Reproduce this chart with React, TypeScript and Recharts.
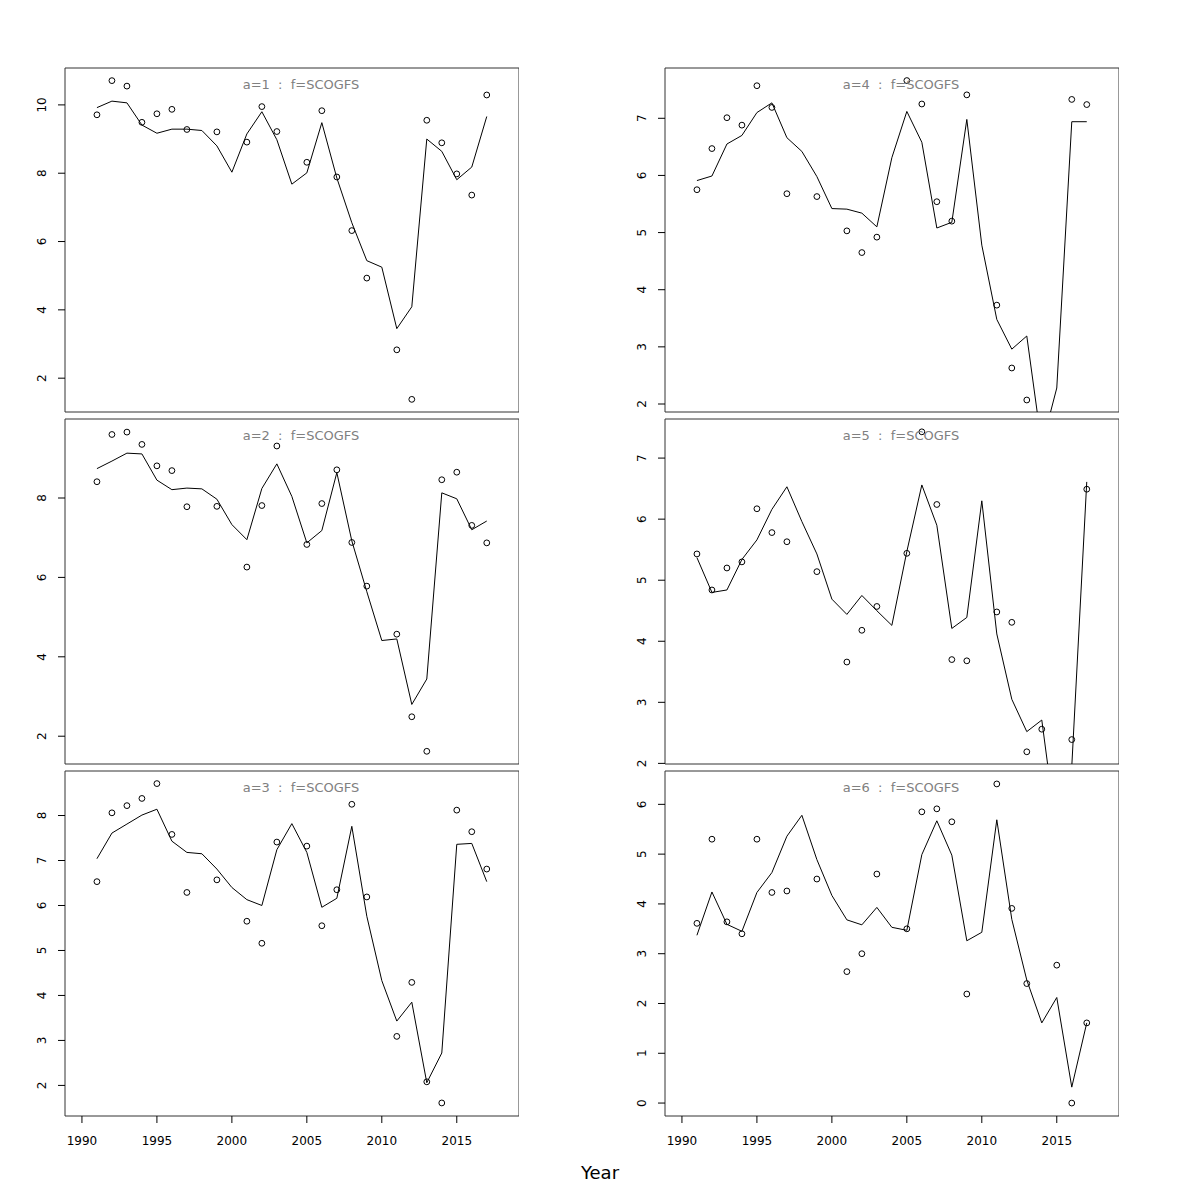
import React from 'react';
import { ComposedChart, Line, Scatter, XAxis, YAxis, ReferenceArea } from 'recharts';

const YEARS = [1991,1992,1993,1994,1995,1996,1997,1998,1999,2000,2001,2002,2003,2004,2005,2006,2007,2008,2009,2010,2011,2012,2013,2014,2015,2016,2017];
const X_TICKS = [1990, 1995, 2000, 2005, 2010, 2015];

const A1_OBS = [9.71,10.71,10.55,9.49,9.74,9.87,9.28,null,9.21,null,8.91,9.95,9.22,null,8.32,9.83,7.89,6.32,4.93,null,2.83,1.38,9.55,8.89,7.98,7.36,10.29];
const A1_FIT = [9.92,10.11,10.06,9.41,9.17,9.29,9.29,9.25,8.80,8.03,9.15,9.80,8.98,7.68,8.01,9.48,7.86,6.55,5.44,5.25,3.45,4.09,9.00,8.64,7.81,8.18,9.66];

const A2_OBS = [8.41,9.60,9.66,9.35,8.81,8.69,7.78,null,7.79,null,6.26,7.81,9.31,null,6.83,7.86,8.71,6.88,5.78,null,4.57,2.49,1.62,8.46,8.65,7.31,6.87];
const A2_FIT = [8.74,8.93,9.13,9.11,8.45,8.21,8.25,8.23,7.97,7.33,6.95,8.24,8.86,8.04,6.87,7.18,8.64,6.92,5.64,4.41,4.45,2.80,3.44,8.13,7.98,7.20,7.42];

const A3_OBS = [6.53,8.06,8.22,8.38,8.71,7.58,6.29,null,6.57,null,5.65,5.16,7.41,null,7.32,5.55,6.35,8.25,6.19,null,3.09,4.29,2.08,1.61,8.12,7.64,6.81];
const A3_FIT = [7.04,7.61,7.81,8.01,8.14,7.43,7.18,7.15,6.81,6.40,6.13,6.00,7.24,7.82,7.18,5.96,6.16,7.76,5.76,4.33,3.43,3.85,2.06,2.72,7.36,7.38,6.53];

const A4_OBS = [5.75,6.47,7.01,6.88,7.57,7.19,5.68,null,5.63,null,5.03,4.65,4.92,null,7.66,7.25,5.54,5.20,7.41,null,3.73,2.63,2.07,null,null,7.33,7.24];
const A4_FIT = [5.91,5.99,6.55,6.70,7.10,7.27,6.66,6.42,5.98,5.42,5.41,5.34,5.10,6.31,7.12,6.58,5.08,5.18,6.98,4.78,3.48,2.96,3.19,1.27,2.28,6.94,6.94];

const A5_OBS = [5.43,4.84,5.20,5.30,6.17,5.78,5.63,null,5.14,null,3.66,4.18,4.57,null,5.44,7.43,6.24,3.70,3.68,null,4.48,4.31,2.19,2.56,null,2.39,6.49];
const A5_FIT = [5.37,4.80,4.84,5.34,5.66,6.16,6.53,5.96,5.43,4.69,4.44,4.75,4.50,4.26,5.47,6.56,5.90,4.21,4.39,6.30,4.12,3.05,2.52,2.71,0.85,1.95,6.61];

const A6_OBS = [3.61,5.30,3.64,3.40,5.30,4.23,4.26,null,4.50,null,2.64,3.00,4.60,null,3.50,5.85,5.91,5.65,2.19,null,6.41,3.91,2.40,null,2.77,0.00,1.61];
const A6_FIT = [3.37,4.24,3.59,3.45,4.23,4.63,5.36,5.78,4.89,4.17,3.68,3.58,3.93,3.53,3.47,4.99,5.67,4.98,3.26,3.43,5.69,3.69,2.47,1.61,2.12,0.32,1.61];

const TITLES = ['a=1  :  f=SCOGFS', 'a=2  :  f=SCOGFS', 'a=3  :  f=SCOGFS', 'a=4  :  f=SCOGFS', 'a=5  :  f=SCOGFS', 'a=6  :  f=SCOGFS'];

const X_DOMAIN: [number, number] = [1988.87, 2019.15];

const PANELS = [
  { title: TITLES[0], obs: A1_OBS, fit: A1_FIT, yDomain: [1.01, 11.08], yTicks: [2, 4, 6, 8, 10], left: 65, top: 68, h: 344, showX: false },
  { title: TITLES[1], obs: A2_OBS, fit: A2_FIT, yDomain: [1.30, 9.99], yTicks: [2, 4, 6, 8], left: 65, top: 419, h: 345, showX: false },
  { title: TITLES[2], obs: A3_OBS, fit: A3_FIT, yDomain: [1.32, 8.99], yTicks: [2, 3, 4, 5, 6, 7, 8], left: 65, top: 771, h: 345, showX: true },
  { title: TITLES[3], obs: A4_OBS, fit: A4_FIT, yDomain: [1.86, 7.88], yTicks: [2, 3, 4, 5, 6, 7], left: 665, top: 68, h: 344, showX: false },
  { title: TITLES[4], obs: A5_OBS, fit: A5_FIT, yDomain: [1.99, 7.64], yTicks: [2, 3, 4, 5, 6, 7], left: 665, top: 419, h: 345, showX: false },
  { title: TITLES[5], obs: A6_OBS, fit: A6_FIT, yDomain: [-0.26, 6.67], yTicks: [0, 1, 2, 3, 4, 5, 6], left: 665, top: 771, h: 345, showX: true },
];

const AXIS_W = 50;
const PLOT_W = 454;
const X_AXIS_H = 40;
const PAD = 10;

const RotTick = (props: any) => {
  const { x, y, payload } = props;
  return (
    <text x={x} y={y} transform={`rotate(-90, ${x}, ${y})`} textAnchor="middle" fontSize={12} fill="#000" fontFamily="DejaVu Sans">
      {payload.value}
    </text>
  );
};

const OpenCircle = (props: any) => {
  const { cx, cy } = props;
  if (cx == null || cy == null) return null;
  return <circle cx={cx} cy={cy} r={2.9} fill="none" stroke="#000" strokeWidth={1} />;
};

function Panel(p: any) {
  const data = YEARS.map((yr, i) => ({ year: yr, fit: p.fit[i] }));
  const pts = YEARS.map((yr, i) => ({ year: yr, obs: p.obs[i] })).filter((d) => d.obs !== null);
  const chartH = p.h + (p.showX ? X_AXIS_H : PAD) + PAD;
  const chartW = AXIS_W + PLOT_W;
  return (
    <div style={{ position: 'absolute', left: p.left - AXIS_W, top: p.top - PAD, width: chartW, height: chartH }}>
      <ComposedChart
        width={chartW}
        height={chartH}
        data={data}
        margin={{ top: PAD, right: 0, bottom: p.showX ? 0 : PAD, left: 0 }}
      >
        <XAxis
          type="number"
          dataKey="year"
          domain={X_DOMAIN}
          allowDataOverflow
          hide={!p.showX}
          ticks={X_TICKS}
          interval={0}
          height={X_AXIS_H}
          tickSize={7}
          tickMargin={13}
          axisLine={false}
          tickLine={{ stroke: '#000' }}
          tick={{ fontSize: 12, fill: '#000', fontFamily: 'DejaVu Sans' }}
        />
        <YAxis
          type="number"
          domain={p.yDomain}
          allowDataOverflow
          ticks={p.yTicks}
          interval={0}
          width={AXIS_W}
          tickSize={7}
          tickMargin={12}
          axisLine={false}
          tickLine={{ stroke: '#000' }}
          tick={RotTick}
        />
        <ReferenceArea
          x1={X_DOMAIN[0]}
          x2={X_DOMAIN[1]}
          y1={p.yDomain[0]}
          y2={p.yDomain[1]}
          fill="none"
          fillOpacity={0}
          stroke="#333"
          strokeWidth={1}
          ifOverflow="visible"
        />
        <Line dataKey="fit" type="linear" stroke="#000" strokeWidth={1} dot={false} activeDot={false} isAnimationActive={false} />
        <Scatter data={pts} dataKey="obs" shape={OpenCircle} isAnimationActive={false} />
      </ComposedChart>
      <div
        style={{
          position: 'absolute',
          left: AXIS_W + PLOT_W / 2 + 9 - 150,
          width: 300,
          top: 10 + PAD,
          textAlign: 'center',
          fontSize: 13,
          lineHeight: '13px',
          color: '#808080',
          whiteSpace: 'pre',
          fontFamily: 'DejaVu Sans',
        }}
      >
        {p.title}
      </div>
    </div>
  );
}

export default function App() {
  return (
    <div style={{ position: 'absolute', left: 0, top: 0, width: 1200, height: 1200, background: '#fff', fontFamily: 'DejaVu Sans' }}>
      {PANELS.map((p, i) => (
        <Panel key={i} {...p} />
      ))}
      <div
        style={{
          position: 'absolute',
          left: 500,
          width: 200,
          top: 1164,
          textAlign: 'center',
          fontSize: 18,
          lineHeight: '18px',
          color: '#000',
          fontFamily: 'DejaVu Sans',
        }}
      >
        Year
      </div>
    </div>
  );
}
